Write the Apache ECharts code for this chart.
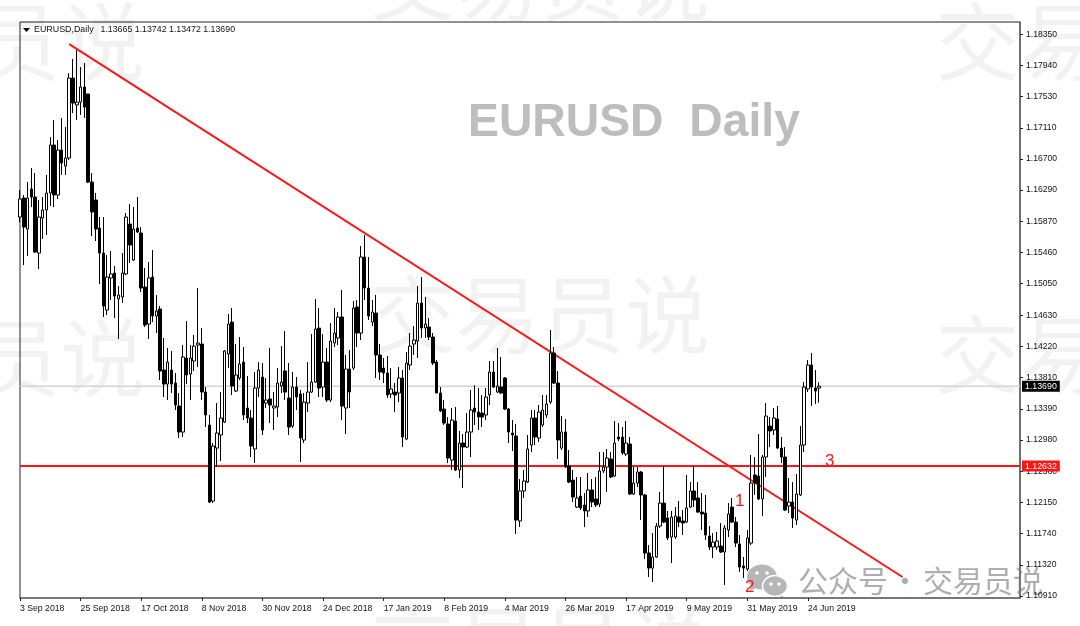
<!DOCTYPE html>
<html>
<head>
<meta charset="utf-8">
<title>EURUSD Daily</title>
<style>
html, body { margin: 0; padding: 0; background: #fff; }
#container { width: 1080px; height: 626px; filter: blur(0.35px); }
</style>
<script src="https://cdn.jsdelivr.net/npm/echarts@6/dist/echarts.min.js"></script>
</head>
<body>
<div id="container"></div>
<script>
// one label every 16 daily bars, starting at bar 0
const dateLabels = ['3 Sep 2018', '25 Sep 2018', '17 Oct 2018', '8 Nov 2018', '30 Nov 2018', '24 Dec 2018', '17 Jan 2019', '8 Feb 2019', '4 Mar 2019', '26 Mar 2019', '17 Apr 2019', '9 May 2019', '31 May 2019', '24 Jun 2019'];
const priceTicks = [1.18350, 1.17940, 1.17530, 1.17110, 1.16700, 1.16290, 1.15870, 1.15460, 1.15050, 1.14630, 1.14220, 1.13810, 1.13390, 1.12980, 1.12560, 1.12150, 1.11740, 1.11320, 1.10910];

const opens = [
    1.15932, 1.16184, 1.15773, 1.16303, 1.16197, 1.15455, 1.15919, 1.16025, 1.16250, 1.16886, 1.16224, 1.16820, 1.16607, 1.16714, 1.17773, 1.17416,
    1.17455, 1.17654, 1.17562, 1.16395, 1.16157, 1.15786, 1.15455, 1.14700, 1.15124, 1.15190, 1.14846, 1.14872, 1.15177, 1.15839, 1.15362, 1.15786,
    1.15720, 1.15004, 1.14514, 1.15137, 1.14620, 1.14713, 1.13905, 1.13719, 1.13905, 1.13732, 1.13427, 1.13083, 1.14064, 1.13852, 1.14024, 1.14236,
    1.14249, 1.13613, 1.13176, 1.12169, 1.12871, 1.13044, 1.13215, 1.14117, 1.14540, 1.13627, 1.13799, 1.14010, 1.13401, 1.13269, 1.12858, 1.13666,
    1.13812, 1.13467, 1.13521, 1.13401, 1.13414, 1.13692, 1.13892, 1.13534, 1.13162, 1.13679, 1.13587, 1.12977, 1.13467, 1.13613, 1.13745, 1.14461,
    1.13679, 1.14010, 1.13507, 1.14262, 1.14329, 1.14607, 1.13401, 1.13918, 1.13931, 1.14739, 1.14395, 1.15402, 1.14991, 1.14540, 1.14660, 1.14104,
    1.13931, 1.13865, 1.13587, 1.13613, 1.13600, 1.13799, 1.12991, 1.13971, 1.14249, 1.14289, 1.14792, 1.14461, 1.14474, 1.14342, 1.14010, 1.13600,
    1.13388, 1.13189, 1.12712, 1.13229, 1.12580, 1.12937, 1.12884, 1.13083, 1.13401, 1.13348, 1.13335, 1.13309, 1.13574, 1.13878, 1.13613, 1.13679,
    1.13799, 1.13388, 1.13070, 1.13030, 1.11904, 1.12302, 1.12420, 1.12911, 1.13269, 1.13004, 1.13176, 1.13309, 1.13480, 1.14130, 1.13732, 1.12871,
    1.13083, 1.12632, 1.12447, 1.12089, 1.12235, 1.12116, 1.12037, 1.12315, 1.12196, 1.12129, 1.12567, 1.12619, 1.12726, 1.12500, 1.13017, 1.13017,
    1.12792, 1.12924, 1.12262, 1.12407, 1.12553, 1.12249, 1.11480, 1.11281, 1.11427, 1.11837, 1.12142, 1.11944, 1.11692, 1.11692, 1.11957, 1.11904,
    1.11890, 1.12089, 1.12302, 1.12209, 1.12023, 1.12010, 1.11705, 1.11559, 1.11559, 1.11572, 1.11493, 1.11785, 1.12089, 1.11890, 1.11599, 1.11307,
    1.11268, 1.11612, 1.12514, 1.12500, 1.12196, 1.12752, 1.13162, 1.13110, 1.13256, 1.12871, 1.12752, 1.12102, 1.12155, 1.11917, 1.12249, 1.12911,
    1.13653, 1.13971, 1.13666, 1.13665
];
const closes = [
    1.16171, 1.15799, 1.16184, 1.16197, 1.15468, 1.15932, 1.16025, 1.16250, 1.16886, 1.16224, 1.16820, 1.16647, 1.16714, 1.17773, 1.17442, 1.17455,
    1.17654, 1.17389, 1.16395, 1.15998, 1.15773, 1.15455, 1.14752, 1.15137, 1.15177, 1.14885, 1.14899, 1.15190, 1.15932, 1.15561, 1.15773, 1.15733,
    1.14991, 1.14501, 1.15124, 1.14620, 1.14687, 1.13892, 1.13719, 1.14010, 1.13719, 1.13441, 1.13083, 1.14077, 1.13839, 1.14064, 1.14222, 1.14262,
    1.13613, 1.13309, 1.12155, 1.12897, 1.13070, 1.13269, 1.14157, 1.14514, 1.13692, 1.13839, 1.13984, 1.13309, 1.13269, 1.12897, 1.13666, 1.13905,
    1.13110, 1.13507, 1.13441, 1.13427, 1.13732, 1.13745, 1.13613, 1.13149, 1.13679, 1.13547, 1.13004, 1.13480, 1.13613, 1.13745, 1.14448, 1.13666,
    1.14010, 1.13507, 1.14289, 1.14395, 1.14607, 1.13427, 1.13918, 1.13613, 1.14726, 1.14395, 1.15402, 1.14991, 1.14620, 1.14673, 1.14104, 1.13878,
    1.13865, 1.13574, 1.13653, 1.13574, 1.13799, 1.13017, 1.13997, 1.14222, 1.14302, 1.14792, 1.14461, 1.14514, 1.14342, 1.13997, 1.13600, 1.13362,
    1.13202, 1.12739, 1.13242, 1.12580, 1.12937, 1.12884, 1.13083, 1.13375, 1.13348, 1.13282, 1.13282, 1.13547, 1.13878, 1.13679, 1.13692, 1.13600,
    1.13388, 1.13083, 1.13044, 1.11917, 1.12302, 1.12434, 1.12858, 1.13269, 1.13017, 1.13348, 1.13375, 1.13454, 1.14130, 1.13732, 1.12977, 1.13083,
    1.12619, 1.12420, 1.12222, 1.12209, 1.12076, 1.12037, 1.12315, 1.12155, 1.12116, 1.12567, 1.12619, 1.12739, 1.12487, 1.12937, 1.12991, 1.12805,
    1.12937, 1.12262, 1.12407, 1.12553, 1.12249, 1.11480, 1.11281, 1.11427, 1.11837, 1.12142, 1.11890, 1.11679, 1.11957, 1.11970, 1.11890, 1.11877,
    1.12076, 1.12302, 1.12182, 1.12023, 1.11997, 1.11719, 1.11559, 1.11625, 1.11639, 1.11493, 1.11811, 1.11997, 1.11890, 1.11612, 1.11294, 1.11281,
    1.11679, 1.12407, 1.12407, 1.12196, 1.12752, 1.13295, 1.13097, 1.13269, 1.12871, 1.12752, 1.12050, 1.12155, 1.11944, 1.12262, 1.12911, 1.13679,
    1.13971, 1.13679, 1.13627, 1.13690
];
const lows = [
    1.15865, 1.15296, 1.15415, 1.16064, 1.15455, 1.15243, 1.15641, 1.15694, 1.16077, 1.16064, 1.16171, 1.16489, 1.16489, 1.16687, 1.17310, 1.17217,
    1.17284, 1.17244, 1.16382, 1.15680, 1.15614, 1.15044, 1.14607, 1.14634, 1.14832, 1.14594, 1.14316, 1.14792, 1.15164, 1.15322, 1.15349, 1.15720,
    1.14938, 1.14474, 1.14316, 1.14540, 1.14395, 1.13772, 1.13547, 1.13507, 1.13600, 1.13375, 1.13004, 1.13017, 1.13719, 1.13507, 1.13892, 1.13944,
    1.13507, 1.13149, 1.12142, 1.12142, 1.12619, 1.12699, 1.13202, 1.13931, 1.13574, 1.13613, 1.13772, 1.13242, 1.13202, 1.12752, 1.12672, 1.13547,
    1.13044, 1.13401, 1.13202, 1.13110, 1.13282, 1.13600, 1.13507, 1.13044, 1.13136, 1.13375, 1.12685, 1.12937, 1.13348, 1.13600, 1.13732, 1.13547,
    1.13547, 1.13480, 1.13480, 1.14209, 1.14236, 1.13242, 1.13057, 1.13401, 1.13905, 1.14209, 1.14302, 1.14832, 1.14567, 1.14487, 1.13799, 1.13772,
    1.13732, 1.13534, 1.13534, 1.13348, 1.13480, 1.12884, 1.12977, 1.13905, 1.14104, 1.14064, 1.14329, 1.14329, 1.14302, 1.13971, 1.13600, 1.13348,
    1.13176, 1.12672, 1.12580, 1.12567, 1.12474, 1.12341, 1.12871, 1.12752, 1.13176, 1.13110, 1.13149, 1.13242, 1.13441, 1.13666, 1.13600, 1.13587,
    1.13375, 1.12937, 1.12832, 1.11732, 1.11824, 1.12209, 1.12407, 1.12818, 1.12911, 1.12950, 1.13149, 1.13269, 1.13454, 1.13719, 1.12726, 1.12845,
    1.12606, 1.12407, 1.12155, 1.12076, 1.12050, 1.11824, 1.11957, 1.12089, 1.12089, 1.12089, 1.12540, 1.12288, 1.12474, 1.12487, 1.12964, 1.12779,
    1.12765, 1.12249, 1.12249, 1.12354, 1.11917, 1.11400, 1.11163, 1.11096, 1.11414, 1.11811, 1.11877, 1.11652, 1.11347, 1.11666, 1.11824, 1.11719,
    1.11877, 1.12076, 1.12089, 1.12010, 1.11785, 1.11652, 1.11520, 1.11414, 1.11520, 1.11480, 1.11056, 1.11692, 1.11877, 1.11559, 1.11228, 1.11149,
    1.11242, 1.11586, 1.12249, 1.12182, 1.11970, 1.12487, 1.12884, 1.13044, 1.12858, 1.12672, 1.12037, 1.12010, 1.11811, 1.11852, 1.12235, 1.12818,
    1.13613, 1.13427, 1.13454, 1.13472
];
const highs = [
    1.16290, 1.16224, 1.16395, 1.16581, 1.16515, 1.16157, 1.16197, 1.16489, 1.16992, 1.17217, 1.16952, 1.17244, 1.17124, 1.17839, 1.18025, 1.18144,
    1.17919, 1.17972, 1.17562, 1.16515, 1.16250, 1.15932, 1.15932, 1.15429, 1.15482, 1.15282, 1.15017, 1.15455, 1.15985, 1.16104, 1.16064, 1.16197,
    1.15799, 1.15256, 1.15335, 1.15495, 1.14899, 1.14752, 1.14329, 1.14196, 1.14157, 1.13865, 1.13600, 1.14236, 1.14554, 1.14236, 1.14369, 1.14991,
    1.14461, 1.13679, 1.13309, 1.12937, 1.13467, 1.13613, 1.14170, 1.14647, 1.14726, 1.14249, 1.14342, 1.14209, 1.13825, 1.13375, 1.13878, 1.14010,
    1.13997, 1.13799, 1.14196, 1.13613, 1.13931, 1.14222, 1.14422, 1.13997, 1.13878, 1.13812, 1.13640, 1.13600, 1.14010, 1.14382, 1.14846, 1.14726,
    1.14382, 1.14196, 1.14527, 1.14726, 1.14673, 1.14965, 1.14104, 1.14170, 1.14819, 1.14832, 1.15548, 1.15694, 1.15402, 1.14832, 1.14899, 1.14249,
    1.14064, 1.14090, 1.13931, 1.13732, 1.13944, 1.13905, 1.14143, 1.14395, 1.14487, 1.15017, 1.15137, 1.14872, 1.14594, 1.14395, 1.14037, 1.13679,
    1.13507, 1.13282, 1.13401, 1.13414, 1.13097, 1.13057, 1.13335, 1.13640, 1.13705, 1.13666, 1.13574, 1.13666, 1.14024, 1.14024, 1.14196, 1.14077,
    1.13812, 1.13401, 1.13242, 1.13189, 1.12460, 1.12580, 1.13044, 1.13375, 1.13375, 1.13441, 1.13574, 1.13574, 1.14435, 1.14209, 1.13892, 1.13295,
    1.13256, 1.12845, 1.12580, 1.12487, 1.12487, 1.12275, 1.12540, 1.12460, 1.12487, 1.12818, 1.12818, 1.12858, 1.12818, 1.13229, 1.13202, 1.13149,
    1.13229, 1.13017, 1.12619, 1.12619, 1.12567, 1.12262, 1.11586, 1.11745, 1.11877, 1.12288, 1.12632, 1.12037, 1.12037, 1.12089, 1.12169, 1.12050,
    1.12514, 1.12420, 1.12632, 1.12420, 1.12275, 1.12249, 1.11837, 1.11745, 1.11759, 1.11877, 1.11850, 1.12142, 1.12209, 1.11957, 1.11719, 1.11427,
    1.11785, 1.12779, 1.12752, 1.13057, 1.12779, 1.13467, 1.13282, 1.13401, 1.13427, 1.13017, 1.12884, 1.12474, 1.12420, 1.12527, 1.13162, 1.13745,
    1.14037, 1.14130, 1.13905, 1.13742
];

// the chart keeps empty room on the right, up to bar 264
const barSlots = 265;
const lastPrice = 1.13690;
const levelPrice = 1.12632;
const trendBars = [13, 233];
const trendPrices = [1.18224, 1.11162];

const uiFont = '"Liberation Sans", Arial, sans-serif';
const cjkFont = '"Noto Sans CJK SC", sans-serif';
const red = '#ff1414';

let categories = [];
for (let i = 0; i < barSlots; i++) {
    categories.push(i % 16 === 0 && dateLabels[i / 16] ? dateLabels[i / 16] : '');
}
let candles = opens.map((o, i) => [o, closes[i], lows[i], highs[i]]);

function watermark(x, y) {
    return {
        type: 'text', left: x, top: y - 43, silent: true,
        style: { text: '交易员说', font: '85px ' + cjkFont, fill: 'rgba(0,0,0,0.05)' }
    };
}
function redText(text, x, y) {
    return {
        type: 'text', left: x, top: y - 7, silent: true,
        style: { text: text, font: '17px ' + uiFont, fill: red }
    };
}
function bubble(cx, cy, rx, ry, stroke) {
    return {
        type: 'ellipse', silent: true,
        shape: { cx: cx, cy: cy, rx: rx, ry: ry },
        style: { fill: '#b6b6b6', stroke: stroke, lineWidth: 1.5 }
    };
}
function eye(cx, cy) {
    return {
        type: 'circle', silent: true,
        shape: { cx: cx, cy: cy, r: 1.8 },
        style: { fill: '#fff' }
    };
}
// a full width horizontal price line with its tag on the price scale
function priceLine(price, color, width, tagColor) {
    return {
        type: 'line',
        z: 2,
        silent: true,
        symbol: 'none',
        data: [[0, price], [barSlots - 1, price]],
        lineStyle: { color: color, width: width },
        endLabel: {
            show: true,
            formatter: price.toFixed(5),
            distance: 2,
            backgroundColor: tagColor,
            color: '#fff',
            padding: [1, 3],
            fontFamily: uiFont,
            fontSize: 8.8
        }
    };
}

var dom = document.getElementById('container');
var myChart = echarts.init(dom, null, { renderer: 'canvas' });

var option = {
    animation: false,
    backgroundColor: '#fff',
    grid: {
        left: 20, top: 22, width: 1000, height: 576,
        show: true, borderColor: '#222', borderWidth: 1, backgroundColor: 'transparent'
    },
    xAxis: {
        type: 'category',
        data: categories,
        boundaryGap: false,
        axisLine: { onZero: false, lineStyle: { color: '#777', width: 2 } },
        axisTick: { interval: (i, v) => v !== '', length: 3, lineStyle: { color: '#222' } },
        axisLabel: {
            interval: (i, v) => v !== '',
            align: 'left', margin: 6,
            fontFamily: uiFont, fontSize: 8.7, color: '#111'
        },
        splitLine: { show: false }
    },
    yAxis: {
        type: 'value',
        position: 'right',
        min: 1.10884,
        max: 1.18516,
        scale: true,
        axisLine: { show: true, lineStyle: { color: '#666', width: 1.5 } },
        axisTick: { show: true, customValues: priceTicks, length: 3, lineStyle: { color: '#222' } },
        axisLabel: {
            customValues: priceTicks,
            formatter: (v) => v.toFixed(5),
            margin: 6,
            fontFamily: uiFont, fontSize: 8.6, color: '#111'
        },
        splitLine: { show: false }
    },
    series: [
        priceLine(lastPrice, '#d4d4d4', 1.5, '#000'),
        priceLine(levelPrice, red, 2, red),
        {
            type: 'line',
            z: 2,
            silent: true,
            symbol: 'none',
            data: trendBars.map((b, i) => [b, trendPrices[i]]),
            lineStyle: { color: red, width: 2 }
        },
        {
            type: 'candlestick',
            name: 'EURUSD',
            z: 5,
            silent: true,
            barWidth: 3,
            data: candles,
            itemStyle: {
                color: '#fff', color0: '#000',
                borderColor: '#000', borderColor0: '#000', borderColorDoji: '#000',
                borderWidth: 1
            }
        }
    ],
    graphic: [
        watermark(370, -18), watermark(370, 315), watermark(370, 645),
        watermark(-195, 42), watermark(-195, 358), watermark(935, 42), watermark(935, 355),
        {
            type: 'polygon', silent: true,
            shape: { points: [[23, 28], [30, 28], [26.5, 32]] },
            style: { fill: '#000' }
        },
        { type: 'text', left: 34, top: 25, silent: true, style: { text: 'EURUSD,Daily', font: '8.9px ' + uiFont, fill: '#111' } },
        { type: 'text', left: 100.5, top: 25, silent: true, style: { text: '1.13665 1.13742 1.13472 1.13690', font: '8.8px ' + uiFont, fill: '#111' } },
        { type: 'text', left: 468, top: 100, silent: true, style: { text: 'EURUSD  Daily', font: 'bold 46.3px ' + uiFont, fill: '#bdbdbd' } },
        {
            type: 'polygon', silent: true,
            shape: { points: [[751, 583], [750, 591], [758, 587]] },
            style: { fill: '#b6b6b6' }
        },
        bubble(762, 577, 15, 12.5, 'none'),
        {
            type: 'polygon', silent: true,
            shape: { points: [[780, 592], [784, 598], [776, 595]] },
            style: { fill: '#b6b6b6' }
        },
        bubble(775, 586, 12.5, 10.5, '#fff'),
        eye(757, 573), eye(767, 573), eye(771, 584), eye(779, 584),
        redText('1', 735, 500), redText('2', 745, 586), redText('3', 825, 460),
        { type: 'text', left: 798, top: 566, silent: true, style: { text: '公众号', font: '30px ' + cjkFont, fill: '#aeaeae' } },
        { type: 'text', left: 890, top: 566, silent: true, style: { text: '·', font: '30px ' + cjkFont, fill: '#aeaeae' } },
        { type: 'text', left: 923, top: 566, silent: true, style: { text: '交易员说', font: '30px ' + cjkFont, fill: '#aeaeae' } }
    ]
};

myChart.setOption(option);
window.addEventListener('resize', myChart.resize);
</script>
</body>
</html>
